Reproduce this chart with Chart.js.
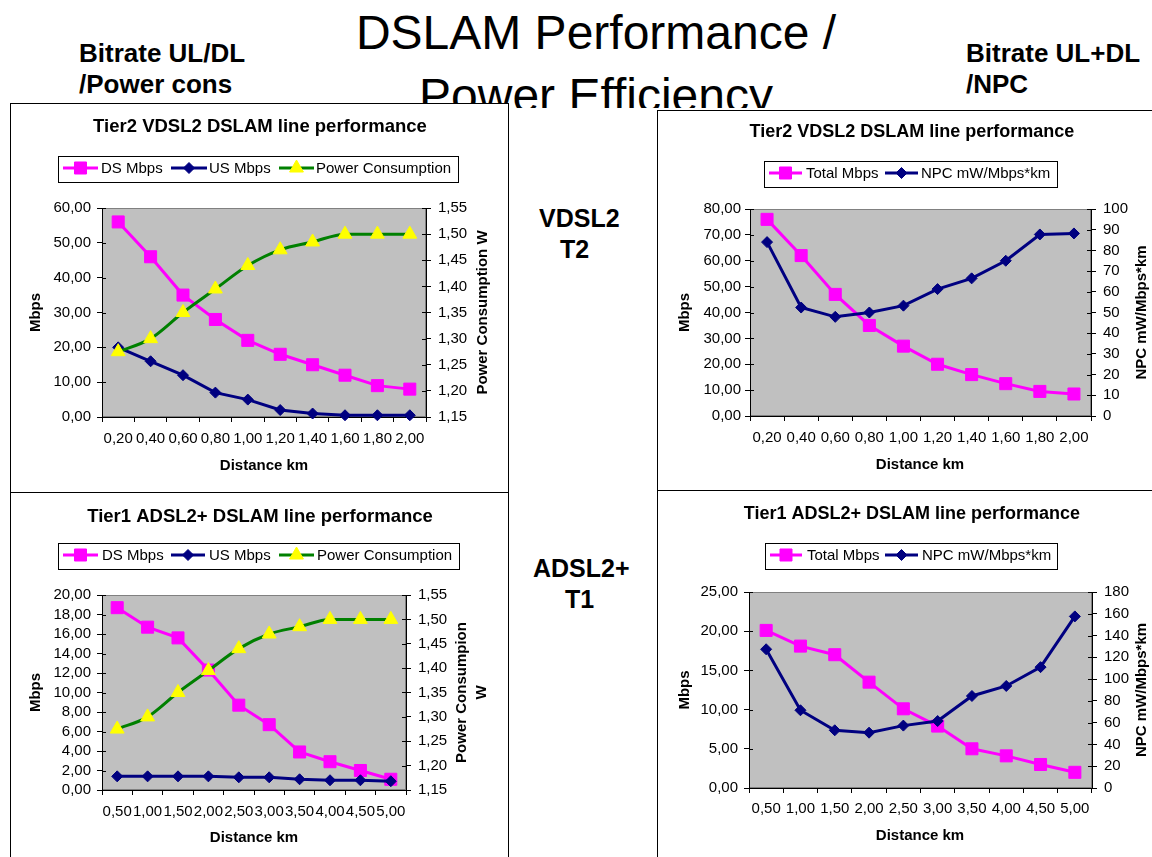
<!DOCTYPE html>
<html>
<head>
<meta charset="utf-8">
<title>DSLAM Performance / Power Efficiency</title>
<script src="https://cdn.jsdelivr.net/npm/chart.js@4/dist/chart.umd.min.js"></script>
<style>
  html, body { margin: 0; padding: 0; background: #fff; }
  body { width: 1152px; height: 857px; position: relative; overflow: hidden;
         font-family: "Liberation Sans", Arial, Helvetica, sans-serif; color: #000; }
  .txt { position: absolute; white-space: nowrap; line-height: 1; }
  .side { font-weight: bold; font-size: 26px; }
  .tech { font-weight: bold; font-size: 25px; }
  #headline { position: absolute; left: 0; top: 0; width: 1152px; height: 108px; overflow: hidden; }
  #headline div { position: absolute; left: 0; width: 1192px; text-align: center; font-size: 48px; line-height: 1; white-space: nowrap; }
  .panel { position: absolute; background: #fff; }
  .panel canvas { display: block; }
  .panel .edge { position: absolute; left: 0; top: 0; right: 0; bottom: 0; border: 1px solid #000; pointer-events: none; }
</style>
</head>
<body>
<div id="headline">
  <div style="top:9px">DSLAM Performance /</div>
  <div style="top:72px">Power Efficiency</div>
</div>
<div class="txt side" style="left:79px; top:40px">Bitrate UL/DL</div>
<div class="txt side" style="left:79px; top:71px">/Power cons</div>
<div class="txt side" style="left:966px; top:40px">Bitrate UL+DL</div>
<div class="txt side" style="left:966px; top:71px">/NPC</div>
<div class="txt tech" style="left:539px; top:206px">VDSL2</div>
<div class="txt tech" style="left:560px; top:237px">T2</div>
<div class="txt tech" style="left:533px; top:556px">ADSL2+</div>
<div class="txt tech" style="left:565px; top:587px">T1</div>

<div class="panel" style="left:10px; top:103px; width:499px; height:390px"><canvas id="vdslRate" width="499" height="390"></canvas><div class="edge"></div></div>
<div class="panel" style="left:10px; top:492px; width:499px; height:370px"><canvas id="adslRate" width="499" height="365"></canvas><div class="edge"></div></div>
<div class="panel" style="left:657px; top:110px; width:500px; height:381px"><canvas id="vdslNpc" width="495" height="380"></canvas><div class="edge"></div></div>
<div class="panel" style="left:657px; top:490px; width:500px; height:370px"><canvas id="adslNpc" width="495" height="367"></canvas><div class="edge"></div></div>

<script>
// ---- data ----
const vdslDistance = ['0,20', '0,40', '0,60', '0,80', '1,00', '1,20', '1,40', '1,60', '1,80', '2,00'];
const adslDistance = ['0,50', '1,00', '1,50', '2,00', '2,50', '3,00', '3,50', '4,00', '4,50', '5,00'];

const vdslDs    = [56, 46, 35, 28, 22, 18, 15, 12, 9, 8];
const vdslUs    = [20, 16, 12, 7, 5, 2, 1, 0.5, 0.5, 0.5];
const vdslPower = [1.275, 1.30, 1.35, 1.395, 1.44, 1.47, 1.485, 1.50, 1.50, 1.50];
const vdslTotal = [76, 62, 47, 35, 27, 20, 16, 12.5, 9.5, 8.5];
const vdslNpcVals = [84, 52.4, 47.9, 50, 53.3, 61.3, 66.5, 75, 87.7, 88.2];

const adslDs    = [18.7, 16.7, 15.6, 12.3, 8.7, 6.7, 3.9, 2.9, 2.0, 1.1];
const adslUs    = [1.4, 1.4, 1.4, 1.4, 1.3, 1.3, 1.1, 1.0, 1.0, 0.9];
const adslPower = [1.275, 1.30, 1.35, 1.395, 1.44, 1.47, 1.485, 1.50, 1.50, 1.50];
const adslTotal = [20.1, 18.1, 17.0, 13.5, 10.1, 7.9, 5.0, 4.1, 3.0, 2.0];
const adslNpcVals = [127.4, 71.4, 53, 50.8, 57.3, 61.5, 84.5, 93.7, 111, 157.6];

const mbpsTicksVdsl = { min: 0, max: 60, step: 10 };
const mbpsTicksAdsl = { min: 0, max: 20, step: 2 };
const powerTicks    = { min: 1.15, max: 1.55, step: 0.05 };
const totalTicksVdsl = { min: 0, max: 80, step: 10 };
const totalTicksAdsl = { min: 0, max: 25, step: 5 };
const npcTicksVdsl  = { min: 0, max: 100, step: 10 };
const npcTicksAdsl  = { min: 0, max: 180, step: 20 };

// ---- styling ----
const FONT = '"Liberation Sans", Arial, Helvetica, sans-serif';
const PINK = { borderColor: '#ff00ff', pointStyle: 'rect', pointRadius: 8.5,
               pointBackgroundColor: '#ff00ff', pointBorderColor: '#ff00ff', order: 2 };
const NAVY = { borderColor: '#000080', pointStyle: 'rectRot', pointRadius: 5.5,
               pointBackgroundColor: '#000080', pointBorderColor: '#000080', order: 1 };
const GREEN = { borderColor: '#008000', pointStyle: 'triangle', pointRadius: 8,
                pointBackgroundColor: '#ffff00', pointBorderColor: '#ffff00', order: 0,
                cubicInterpolationMode: 'monotone' };

function series(style, label, data, axis) {
  return Object.assign({ label, data, yAxisID: axis, fill: false, borderWidth: 3,
    pointBorderWidth: 1, pointHoverRadius: style.pointRadius, clip: false }, style);
}

const comma2 = v => Number(v).toFixed(2).replace('.', ',');
const whole = v => String(Math.round(v));

// plot background, inner tick marks, title, boxed legend and axis titles
const framePlugin = {
  id: 'frame',
  beforeDraw(chart) {
    const { ctx, chartArea: a } = chart;
    ctx.save();
    ctx.fillStyle = '#c0c0c0';
    ctx.fillRect(a.left, a.top, a.right - a.left, a.bottom - a.top);
    ctx.strokeStyle = '#808080';
    ctx.lineWidth = 1;
    ctx.strokeRect(a.left + 0.5, a.top + 0.5, a.right - a.left - 1, a.bottom - a.top - 1);
    ctx.restore();
  },
  afterDraw(chart, args, o) {
    const { ctx, chartArea: a } = chart;
    ctx.save();
    // short tick marks reaching into the plot on both value axes
    ctx.strokeStyle = '#000';
    ctx.lineWidth = 1;
    ['y', 'y1'].forEach(id => {
      const s = chart.scales[id];
      if (!s) return;
      s.ticks.forEach((t, i) => {
        const y = Math.round(s.getPixelForTick(i)) + 0.5;
        ctx.beginPath();
        if (s.position === 'left') { ctx.moveTo(a.left, y); ctx.lineTo(a.left + 4, y); }
        else { ctx.moveTo(a.right - 4, y); ctx.lineTo(a.right, y); }
        ctx.stroke();
      });
    });

    // chart title
    ctx.fillStyle = '#000';
    ctx.textAlign = 'center';
    ctx.textBaseline = 'middle';
    ctx.font = 'bold ' + o.titleSize + 'px ' + FONT;
    ctx.fillText(o.title, o.titleX, o.titleY);

    // legend box
    const lg = o.legend;
    ctx.fillStyle = '#fff';
    ctx.fillRect(lg.x, lg.y, lg.w, lg.h);
    ctx.strokeStyle = '#000';
    ctx.lineWidth = 1;
    ctx.strokeRect(lg.x + 0.5, lg.y + 0.5, lg.w, lg.h);
    ctx.font = '15px ' + FONT;
    ctx.textAlign = 'left';
    lg.items.forEach((it, i) => {
      const ds = chart.data.datasets[i];
      ctx.strokeStyle = ds.borderColor;
      ctx.lineWidth = 3;
      ctx.beginPath();
      ctx.moveTo(it.x0, lg.textY);
      ctx.lineTo(it.x1, lg.textY);
      ctx.stroke();
      ctx.fillStyle = ds.pointBackgroundColor;
      ctx.strokeStyle = ds.pointBorderColor;
      ctx.lineWidth = 1;
      Chart.helpers.drawPoint(ctx, { pointStyle: ds.pointStyle, radius: ds.pointRadius,
        rotation: 0, borderWidth: 1 }, (it.x0 + it.x1) / 2, lg.textY);
      ctx.fillStyle = '#000';
      ctx.fillText(ds.label, it.tx, lg.textY + 1);
    });

    // axis titles
    ctx.font = 'bold 15px ' + FONT;
    ctx.textAlign = 'center';
    o.axisTitles.forEach(t => {
      ctx.save();
      ctx.translate(t.x, t.y);
      if (t.rot) ctx.rotate(-Math.PI / 2);
      ctx.fillText(t.text, 0, 0);
      ctx.restore();
    });
    ctx.restore();
  }
};
Chart.register(framePlugin);

function valueAxis(position, range, fmt, width, pad) {
  return {
    type: 'linear', position, min: range.min, max: range.max,
    grid: { drawOnChartArea: false, tickLength: 5, tickColor: '#000', tickWidth: 1 },
    border: { color: '#000', width: 1 },
    ticks: { stepSize: range.step, autoSkip: false, maxTicksLimit: 40, padding: pad, color: '#000',
             font: { family: FONT, size: 15 }, callback: fmt },
    afterFit(s) { s.width = width; }
  };
}

function buildChart(id, labels, datasets, layout, leftAxis, rightAxis, frame) {
  const W = layout.w, H = layout.h;
  return new Chart(document.getElementById(id), {
    type: 'line',
    data: { labels, datasets },
    options: {
      responsive: false, animation: false, events: [], devicePixelRatio: 1,
      layout: { padding: { top: layout.top, left: 0, right: 0, bottom: 0 } },
      plugins: { legend: { display: false }, title: { display: false }, tooltip: { enabled: false },
                 frame },
      scales: {
        x: {
          type: 'category', position: 'bottom', offset: true,
          grid: { offset: true, drawOnChartArea: false, tickLength: 5, tickColor: '#000', tickWidth: 1 },
          border: { color: '#000', width: 1 },
          ticks: { autoSkip: false, maxRotation: 0, minRotation: 0, padding: layout.xPad, color: '#000',
                   font: { family: FONT, size: 15 } },
          afterFit(s) { s.height = H - layout.bottom; }
        },
        y: valueAxis('left', leftAxis.range, leftAxis.fmt, layout.left, leftAxis.pad),
        y1: valueAxis('right', rightAxis.range, rightAxis.fmt, W - layout.right, 7)
      }
    }
  });
}

// Tier2 VDSL2: downstream / upstream / power
buildChart('vdslRate', vdslDistance, [
  series(PINK, 'DS Mbps', vdslDs, 'y'),
  series(NAVY, 'US Mbps', vdslUs, 'y'),
  series(GREEN, 'Power Consumption', vdslPower, 'y1')
], { w: 499, h: 390, left: 92, right: 416, top: 105, bottom: 314, xPad: 8 },
{ range: mbpsTicksVdsl, fmt: comma2, pad: 6 }, { range: powerTicks, fmt: comma2 },
{ title: 'Tier2 VDSL2 DSLAM line performance', titleX: 250, titleY: 24, titleSize: 18.5,
  legend: { x: 48, y: 53, w: 400, h: 26, textY: 65,
            items: [{ x0: 53, x1: 88, tx: 91 }, { x0: 161, x1: 197, tx: 199 }, { x0: 269, x1: 304, tx: 306 }] },
  axisTitles: [{ text: 'Mbps', x: 26, y: 209.5, rot: true },
               { text: 'Power Consumption W', x: 473, y: 209.5, rot: true },
               { text: 'Distance km', x: 254, y: 363, rot: false }] });

// Tier1 ADSL2+: downstream / upstream / power
buildChart('adslRate', adslDistance, [
  series(PINK, 'DS Mbps', adslDs, 'y'),
  series(NAVY, 'US Mbps', adslUs, 'y'),
  series(GREEN, 'Power Consumption', adslPower, 'y1')
], { w: 499, h: 365, left: 92, right: 396, top: 103, bottom: 298, xPad: 8 },
{ range: mbpsTicksAdsl, fmt: comma2, pad: 6 }, { range: powerTicks, fmt: comma2 },
{ title: 'Tier1 ADSL2+ DSLAM line performance', titleX: 250, titleY: 25, titleSize: 18.5,
  legend: { x: 48, y: 51, w: 401, h: 26, textY: 63,
            items: [{ x0: 53, x1: 88, tx: 92 }, { x0: 161, x1: 195, tx: 199 }, { x0: 269, x1: 304, tx: 307 }] },
  axisTitles: [{ text: 'Mbps', x: 26, y: 200.5, rot: true },
               { text: 'Power Consumpion', x: 452, y: 200.5, rot: true },
               { text: 'W', x: 472, y: 200.5, rot: true },
               { text: 'Distance km', x: 244, y: 346, rot: false }] });

// Tier2 VDSL2: total bitrate / normalised power consumption
buildChart('vdslNpc', vdslDistance, [
  series(PINK, 'Total Mbps', vdslTotal, 'y'),
  series(NAVY, 'NPC mW/Mbps*km', vdslNpcVals, 'y1')
], { w: 495, h: 380, left: 93, right: 434, top: 99, bottom: 306, xPad: 8 },
{ range: totalTicksVdsl, fmt: comma2, pad: 4 }, { range: npcTicksVdsl, fmt: whole },
{ title: 'Tier2 VDSL2 DSLAM line performance', titleX: 255, titleY: 22, titleSize: 18,
  legend: { x: 107, y: 51, w: 293, h: 26, textY: 63,
            items: [{ x0: 112, x1: 145, tx: 149 }, { x0: 228, x1: 261, tx: 264 }] },
  axisTitles: [{ text: 'Mbps', x: 28, y: 202.5, rot: true },
               { text: 'NPC mW/Mbps*km', x: 485, y: 202.5, rot: true },
               { text: 'Distance km', x: 263, y: 355, rot: false }] });

// Tier1 ADSL2+: total bitrate / normalised power consumption
buildChart('adslNpc', adslDistance, [
  series(PINK, 'Total Mbps', adslTotal, 'y'),
  series(NAVY, 'NPC mW/Mbps*km', adslNpcVals, 'y1')
], { w: 495, h: 367, left: 92, right: 435, top: 102, bottom: 298, xPad: 7 },
{ range: totalTicksAdsl, fmt: comma2, pad: 6 }, { range: npcTicksAdsl, fmt: whole },
{ title: 'Tier1 ADSL2+ DSLAM line performance', titleX: 255, titleY: 24, titleSize: 18,
  legend: { x: 108, y: 53, w: 292, h: 26, textY: 65,
            items: [{ x0: 113, x1: 145, tx: 150 }, { x0: 228, x1: 261, tx: 265 }] },
  axisTitles: [{ text: 'Mbps', x: 28, y: 200, rot: true },
               { text: 'NPC mW/Mbps*km', x: 485, y: 200, rot: true },
               { text: 'Distance km', x: 263, y: 346, rot: false }] });
</script>
</body>
</html>
